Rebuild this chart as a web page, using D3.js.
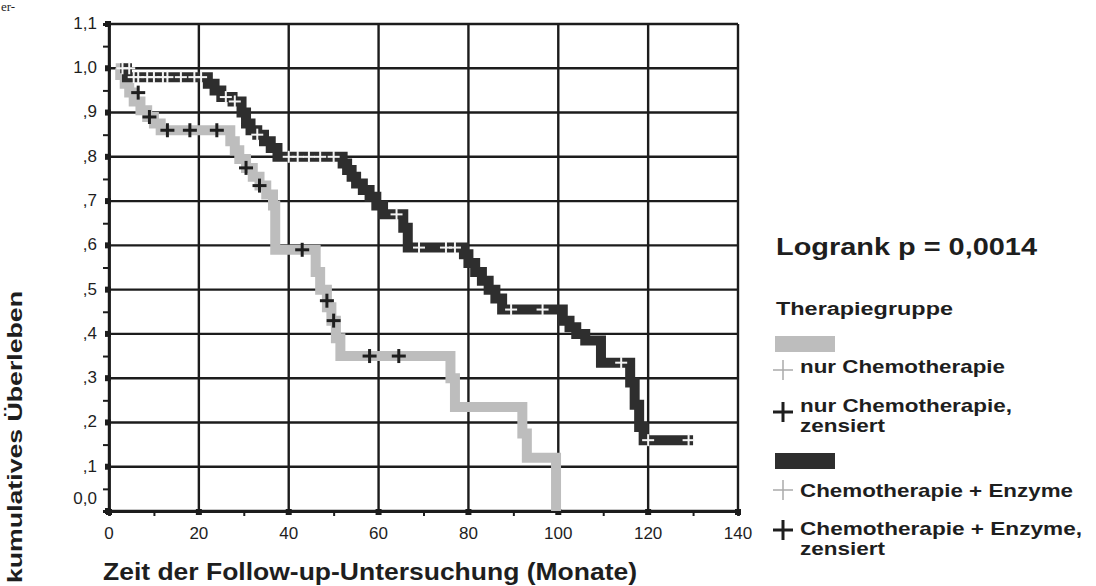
<!DOCTYPE html>
<html>
<head>
<meta charset="utf-8">
<script src="https://cdn.jsdelivr.net/npm/d3@7"></script>
<style>
  body { margin: 0; background: #fff; }
  text { font-family: "Liberation Sans", Arial, sans-serif; fill: #1e1e1e; }
</style>
</head>
<body>
<div id="chart"></div>
<script>
// Kaplan-Meier steps
let chemoTime = [1.5, 2.5, 3.5, 4.5, 5.5, 7, 8.5, 10, 11.5, 27, 28, 29, 30.5, 32, 33.5, 35, 36.5, 37, 46, 47, 48.5, 49.5, 50.5, 51.5, 76, 77, 92, 93, 99.5];
let chemoSurv = [1.0, 0.985, 0.965, 0.945, 0.925, 0.905, 0.89, 0.875, 0.86, 0.835, 0.815, 0.795, 0.775, 0.755, 0.735, 0.715, 0.69, 0.59, 0.54, 0.5, 0.46, 0.43, 0.39, 0.35, 0.30, 0.235, 0.175, 0.12, 0.0];

let enzymTime = [2.5, 4, 22, 23.5, 25, 27.5, 29.5, 30.5, 31.5, 33, 34.5, 36, 37.5, 52, 53, 54, 55, 56.5, 58, 59.5, 61, 65.5, 66.5, 79, 80, 81.5, 83, 84.5, 86, 87.5, 101, 102.5, 104, 106, 109.5, 116, 117, 118, 119, 130];
let enzymSurv = [1.0, 0.98, 0.965, 0.95, 0.935, 0.925, 0.90, 0.875, 0.86, 0.85, 0.835, 0.82, 0.80, 0.785, 0.77, 0.755, 0.74, 0.725, 0.71, 0.69, 0.67, 0.64, 0.595, 0.58, 0.56, 0.54, 0.52, 0.50, 0.48, 0.455, 0.43, 0.415, 0.40, 0.385, 0.335, 0.29, 0.24, 0.19, 0.16, 0.16];

// censored cases
let chemoCensT = [6.5, 9, 13, 18, 24, 30.5, 33.5, 43, 48.5, 50, 58, 64.5];
let chemoCensS = [0.945, 0.89, 0.86, 0.86, 0.86, 0.775, 0.735, 0.59, 0.475, 0.43, 0.35, 0.35];
let enzymCensT = [3, 4.5, 5.5, 6.5, 8.5, 10, 12, 13, 16, 19, 20.5, 26, 28, 33, 40, 42, 44.5, 47, 50, 64, 69, 75, 77, 89.5, 96.5, 114, 120, 129];
let enzymCensS = [1.0, 1.0, 0.98, 0.98, 0.98, 0.98, 0.98, 0.98, 0.98, 0.98, 0.98, 0.935, 0.925, 0.85, 0.80, 0.80, 0.80, 0.80, 0.80, 0.67, 0.595, 0.595, 0.595, 0.455, 0.455, 0.335, 0.16, 0.16];

let xTicks = [0, 20, 40, 60, 80, 100, 120, 140];
let yTicks = [0, 0.1, 0.2, 0.3, 0.4, 0.5, 0.6, 0.7, 0.8, 0.9, 1.0, 1.1];
let yTickLabels = ["0,0", ",1", ",2", ",3", ",4", ",5", ",6", ",7", ",8", ",9", "1,0", "1,1"];

let lightGrey = "#bdbdbd";
let darkGrey = "#2e2e2e";

let svg = d3.select('#chart')
    .append('svg')
    .attr('width', 1096)
    .attr('height', 586);

let x = d3.scaleLinear().domain([0, 140]).range([109, 738]);
let y = d3.scaleLinear().domain([0, 1.1]).range([511, 24]);

// scan fragment top left
svg.append('text').attr('x', 1).attr('y', 11)
    .style('font-family', '"Liberation Serif", serif').attr('font-size', 13).text('er-');

// grid
let grid = svg.append('g');
grid.selectAll('line.v').data(xTicks).enter().append('line')
    .attr('x1', d => x(d)).attr('x2', d => x(d))
    .attr('y1', y(1.1)).attr('y2', y(0))
    .attr('stroke', '#1c1c1c').attr('stroke-width', 2.4);
grid.selectAll('line.h').data(yTicks).enter().append('line')
    .attr('y1', d => y(d)).attr('y2', d => y(d))
    .attr('x1', x(0)).attr('x2', x(140))
    .attr('stroke', '#1c1c1c').attr('stroke-width', 2.4);

// axes (minor ticks + square major ticks)
let yAxis = d3.axisLeft(y).tickValues(d3.range(0.05, 1.1, 0.1)).tickSize(6).tickFormat('');
svg.append('g').attr('transform', 'translate(' + x(0) + ',0)').call(yAxis)
    .call(g => g.select('.domain').attr('stroke', '#1c1c1c').attr('stroke-width', 2.8))
    .call(g => g.selectAll('line').attr('stroke', '#1c1c1c').attr('stroke-width', 2));
let xAxis = d3.axisBottom(x).tickValues(d3.range(10, 140, 20)).tickSize(5).tickFormat('');
svg.append('g').attr('transform', 'translate(0,' + y(0) + ')').call(xAxis)
    .call(g => g.select('.domain').attr('stroke', '#1c1c1c').attr('stroke-width', 2.8))
    .call(g => g.selectAll('line').attr('stroke', '#1c1c1c').attr('stroke-width', 2));

svg.selectAll('rect.ytick').data(yTicks).enter().append('rect')
    .attr('x', x(0) - 4).attr('y', d => y(d) - 3).attr('width', 6).attr('height', 6).attr('fill', '#1c1c1c');
svg.selectAll('rect.xtick').data(xTicks).enter().append('rect')
    .attr('x', d => x(d) - 3).attr('y', y(0) - 2).attr('width', 6).attr('height', 6).attr('fill', '#1c1c1c');

// tick labels
svg.selectAll('text.ylab').data(yTicks).enter().append('text')
    .attr('x', 97)
    .attr('y', (d, i) => i == 0 ? y(d) - 13 : y(d) - 1)
    .attr('dy', '0.35em')
    .attr('text-anchor', 'end')
    .attr('font-size', 17)
    .text((d, i) => yTickLabels[i]);
svg.selectAll('text.xlab').data(xTicks).enter().append('text')
    .attr('x', d => x(d))
    .attr('y', 539)
    .attr('text-anchor', 'middle')
    .attr('font-size', 17)
    .text(d => d);

// survival curves
let line = d3.line()
    .x(d => x(d[0]))
    .y(d => y(d[1]))
    .curve(d3.curveStepAfter);

svg.append('path')
    .datum(chemoTime.map((t, i) => [t, chemoSurv[i]]))
    .attr('d', line)
    .attr('fill', 'none')
    .attr('stroke', lightGrey)
    .attr('stroke-width', 10)
    .attr('stroke-linejoin', 'miter');

svg.append('path')
    .datum(enzymTime.map((t, i) => [t, enzymSurv[i]]))
    .attr('d', line)
    .attr('fill', 'none')
    .attr('stroke', darkGrey)
    .attr('stroke-width', 10)
    .attr('stroke-linejoin', 'miter');

function drawCross(g, cx, cy, size, color, width) {
    g.append('line').attr('x1', cx - size).attr('x2', cx + size).attr('y1', cy).attr('y2', cy)
        .attr('stroke', color).attr('stroke-width', width);
    g.append('line').attr('x1', cx).attr('x2', cx).attr('y1', cy - size).attr('y2', cy + size)
        .attr('stroke', color).attr('stroke-width', width);
}

let marks = svg.append('g');
chemoCensT.forEach((t, i) => drawCross(marks, x(t), y(chemoCensS[i]), 7, '#1e1e1e', 3));
enzymCensT.forEach((t, i) => drawCross(marks, x(t), y(enzymCensS[i]), 6, '#f4f4f4', 2));

// titles
svg.append('text')
    .attr('transform', 'translate(22,437) rotate(-90)')
    .attr('text-anchor', 'middle')
    .attr('font-size', 21)
    .attr('font-weight', 'bold')
    .attr('textLength', 292)
    .attr('lengthAdjust', 'spacingAndGlyphs')
    .text('kumulatives Überleben');

svg.append('text')
    .attr('x', 103).attr('y', 580)
    .attr('font-size', 24)
    .attr('font-weight', 'bold')
    .attr('textLength', 534)
    .attr('lengthAdjust', 'spacingAndGlyphs')
    .text('Zeit der Follow-up-Untersuchung (Monate)');

// legend
let legendTexts = ['nur Chemotherapie', 'nur Chemotherapie,', 'zensiert', 'Chemotherapie + Enzyme', 'Chemotherapie + Enzyme,', 'zensiert'];
let legendBase = [373, 412, 432, 497, 535, 555];
let legendLen = [205, 212, 85, 273, 282, 85];

let leg = svg.append('g');
leg.append('text').attr('x', 776).attr('y', 255)
    .attr('font-size', 24).attr('font-weight', 'bold')
    .attr('textLength', 261).attr('lengthAdjust', 'spacingAndGlyphs')
    .text('Logrank p = 0,0014');
leg.append('text').attr('x', 776).attr('y', 315)
    .attr('font-size', 18).attr('font-weight', 'bold')
    .attr('textLength', 177).attr('lengthAdjust', 'spacingAndGlyphs')
    .text('Therapiegruppe');

leg.append('rect').attr('x', 775).attr('y', 336).attr('width', 60).attr('height', 16).attr('fill', lightGrey);
leg.append('rect').attr('x', 775).attr('y', 453).attr('width', 60).attr('height', 16).attr('fill', darkGrey);

drawCross(leg, 783, 370, 10, '#aaa', 1.5);
drawCross(leg, 783, 412, 10, '#1e1e1e', 3);
drawCross(leg, 783, 490, 10, '#aaa', 1.5);
drawCross(leg, 783, 530, 10, '#1e1e1e', 3);

leg.selectAll('text.item').data(legendTexts).enter().append('text')
    .attr('x', 800)
    .attr('y', (d, i) => legendBase[i])
    .attr('font-size', 19)
    .attr('font-weight', 'bold')
    .attr('textLength', (d, i) => legendLen[i])
    .attr('lengthAdjust', 'spacingAndGlyphs')
    .text(d => d);
</script>
</body>
</html>
